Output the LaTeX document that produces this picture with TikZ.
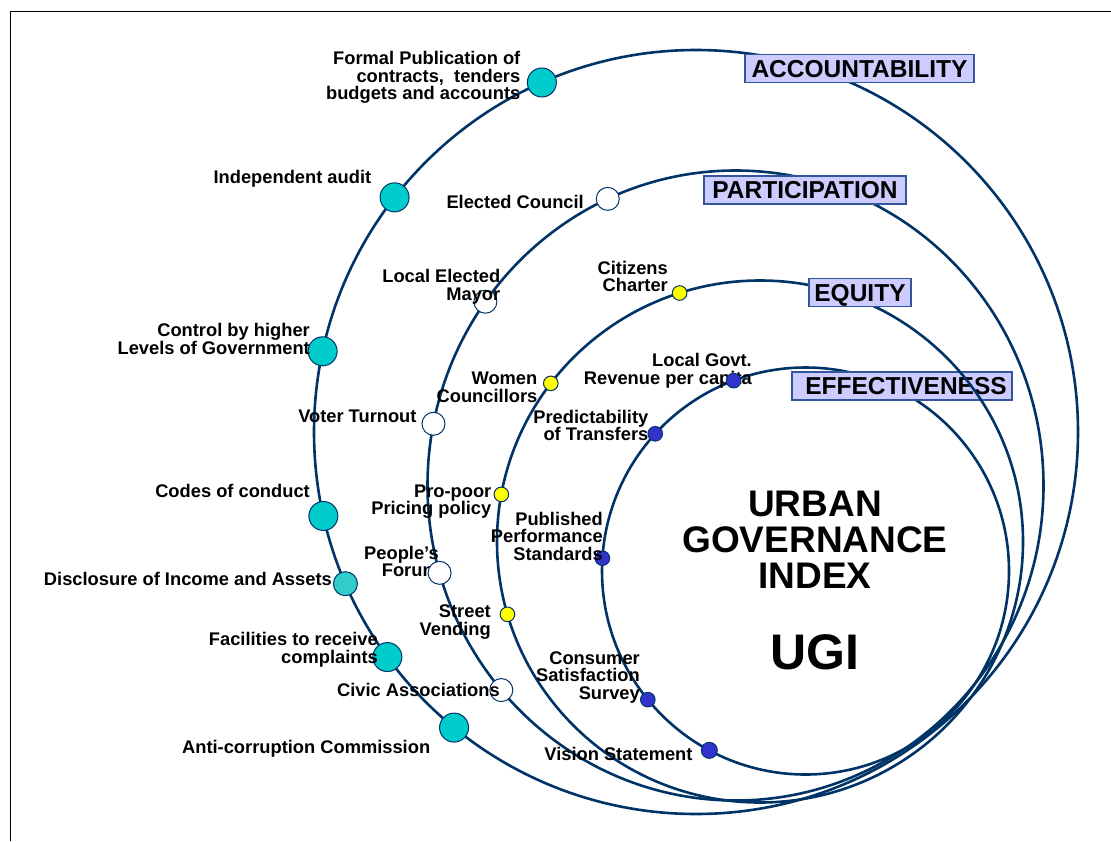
\documentclass[tikz,border=0pt]{standalone}
\usepackage{fontspec}
\setmainfont{Liberation Sans}
\usetikzlibrary{calc}
\definecolor{ringblue}{RGB}{0,51,102}
\definecolor{boxfill}{RGB}{204,204,255}
\definecolor{boxedge}{RGB}{51,85,153}
\definecolor{tealdot}{RGB}{0,204,204}
\definecolor{tealsoft}{RGB}{51,204,204}
\definecolor{yellowdot}{RGB}{255,255,0}
\definecolor{bluedot}{RGB}{51,51,204}
\newcommand\tightlines{\lineskiplimit=-30pt\relax}
\newcommand\lblfont{\fontsize{18.3}{17.5}\selectfont\bfseries\tightlines}
\newcommand\titlefont{\fontsize{37}{35.7}\selectfont\bfseries\tightlines}
\begin{document}
\begin{tikzpicture}[x=1pt,y=-1pt,
  ring/.style={draw=ringblue,line width=2.6pt},
  catbox/.style={draw=boxedge,fill=boxfill,line width=1.3pt,inner sep=0pt,minimum height=28pt,text height=17.6pt,text depth=0pt,font=\fontsize{24.5}{24.5}\selectfont\bfseries},
  lbl/.style={anchor=base east,align=right,inner sep=0pt,font=\lblfont},
  dotbase/.style={circle,draw=ringblue,line width=1pt,inner sep=0pt},
  bigdot/.style={dotbase,fill=tealdot,minimum size=29pt},
  softdot/.style={dotbase,fill=tealsoft,minimum size=24pt},
  whitedot/.style={dotbase,fill=white,minimum size=23pt},
  yeldot/.style={dotbase,fill=yellowdot,minimum size=14.6pt},
  bludot/.style={dotbase,fill=bluedot,minimum size=14.6pt},
  title/.style={align=center,inner sep=0pt,anchor=base}
]
\useasboundingbox (0,0) rectangle (1111,841);
% frame
\coordinate (fTL) at (10.5,11.5);
\coordinate (fTR) at (1111,11.5);
\coordinate (fBL) at (10.5,841);
\draw[line width=1.2pt] (fTR) -- (fTL) -- (fBL);
% ring centres
\coordinate (cA) at (696,432);
\coordinate (cB) at (735.5,485.5);
\coordinate (cC) at (760,541.5);
\coordinate (cD) at (805.5,571);
% rings and their titles
\draw[ring] (cD) circle [radius=203.5];
\node[catbox,minimum width=220pt] (boxD) at (902,386) {\hspace*{8pt}EFFECTIVENESS};
\draw[ring] (cC) ellipse [x radius=263, y radius=261];
\node[catbox,minimum width=102pt] (boxC) at (860,292.5) {EQUITY};
\draw[ring] (cB) ellipse [x radius=308, y radius=315];
\node[catbox,minimum width=202pt] (boxB) at (805,190) {PARTICIPATION};
\draw[ring] (cA) circle [radius=382];
\node[catbox,minimum width=229pt] (boxA) at (859.5,68.5) {ACCOUNTABILITY};
% central title (anchor = baseline of last line)
\node[title,font=\titlefont] (ugiTitle) at (815,588) {URBAN\\GOVERNANCE\\INDEX};
\node[title,font=\fontsize{50}{50}\selectfont\bfseries] (ugiShort) at (815,669) {UGI};
% accountability dots
\node[bigdot] (pubD) at ($(cA)+(246.2:382)$) {};
\node[bigdot] (audD) at ($(cA)+(217.9:382)$) {};
\node[bigdot] (ctrD) at ($(cA)+(192.2:382)$) {};
\node[bigdot] (codD) at ($(cA)+(167.3:382)$) {};
\node[softdot] (disD) at ($(cA)+(156.6:382)$) {};
\node[bigdot] (facD) at ($(cA)+(143.9:382)$) {};
\node[bigdot] (antD) at ($(cA)+(129.3:382)$) {};
% participation dots (People's Forum dot drawn later)
\node[whitedot] (eleD) at ($(cB)+(245.5:308 and 315)$) {};
\node[whitedot] (mayD) at ($(cB)+(215.7:308 and 315)$) {};
\node[whitedot] (votD) at ($(cB)+(191.3:308 and 315)$) {};
\node[whitedot] (civD) at ($(cB)+(139.5:308 and 315)$) {};
% equity dots
\node[yeldot] (cizD) at ($(cC)+(252.2:263 and 261)$) {};
\node[yeldot] (womD) at ($(cC)+(217.3:263 and 261)$) {};
\node[yeldot] (ppD) at ($(cC)+(190.4:263 and 261)$) {};
\node[yeldot] (strD) at ($(cC)+(163.8:263 and 261)$) {};
% effectiveness dots (revenue dot drawn later)
\node[bludot] (preD) at ($(cD)+(222.4:203.5)$) {};
\node[bludot] (pubsD) at ($(cD)+(183.6:203.5)$) {};
\node[bludot] (conD) at ($(cD)+(140.8:203.5)$) {};
\node[bludot,minimum size=16pt] (visD) at ($(cD)+(118.2:203.5)$) {};
% labels (anchor = baseline of last line, right end)
\node[lbl] (pubL) at (520.5,99.8) {Formal Publication of\\contracts,~ tenders\\budgets and accounts};
\node[lbl] (audL) at (371.4,183.3) {Independent audit};
\node[lbl] (eleL) at (584,208.3) {Elected Council};
\node[lbl] (mayL) at (500.5,300) {Local Elected\\Mayor};
\node[lbl] (ctrL) at (310,354.3) {Control by higher\\Levels of Government};
\node[lbl] (cizL) at (668,291.7) {Citizens\\Charter};
\node[lbl] (womL) at (537.5,402) {Women\\Councillors};
\node[lbl] (revL) at (752,384.3) {Local Govt.\\Revenue per capita};
\node[lbl] (votL) at (416.7,422.7) {Voter Turnout};
\node[lbl] (preL) at (648.5,440.7) {Predictability\\of Transfers};
\node[lbl] (ppL) at (491.5,514.5) {Pro-poor\\Pricing policy};
\node[lbl] (codL) at (310,497.3) {Codes of conduct};
\node[lbl] (pubsL) at (603,560) {Published\\Performance\\Standards};
\node[lbl] (pplL) at (439,576.7) {People’s\\Forum};
\node[lbl] (disL) at (332,585) {Disclosure of Income and Assets};
\node[lbl] (strL) at (491,635) {Street\\Vending};
\node[lbl] (facL) at (378,663.3) {Facilities to receive\\complaints};
\node[lbl] (conL) at (640,699.3) {Consumer\\Satisfaction\\Survey};
\node[lbl] (civL) at (500,696) {Civic Associations};
\node[lbl] (antL) at (430.4,753.3) {Anti-corruption Commission};
\node[lbl] (visL) at (692.7,760.7) {Vision Statement};
% dots that lie over their labels
\node[whitedot] (pplD) at ($(cB)+(163.9:308 and 315)$) {};
\node[bludot] (revD) at ($(cD)+(249.3:203.5)$) {};
\end{tikzpicture}
\end{document}
